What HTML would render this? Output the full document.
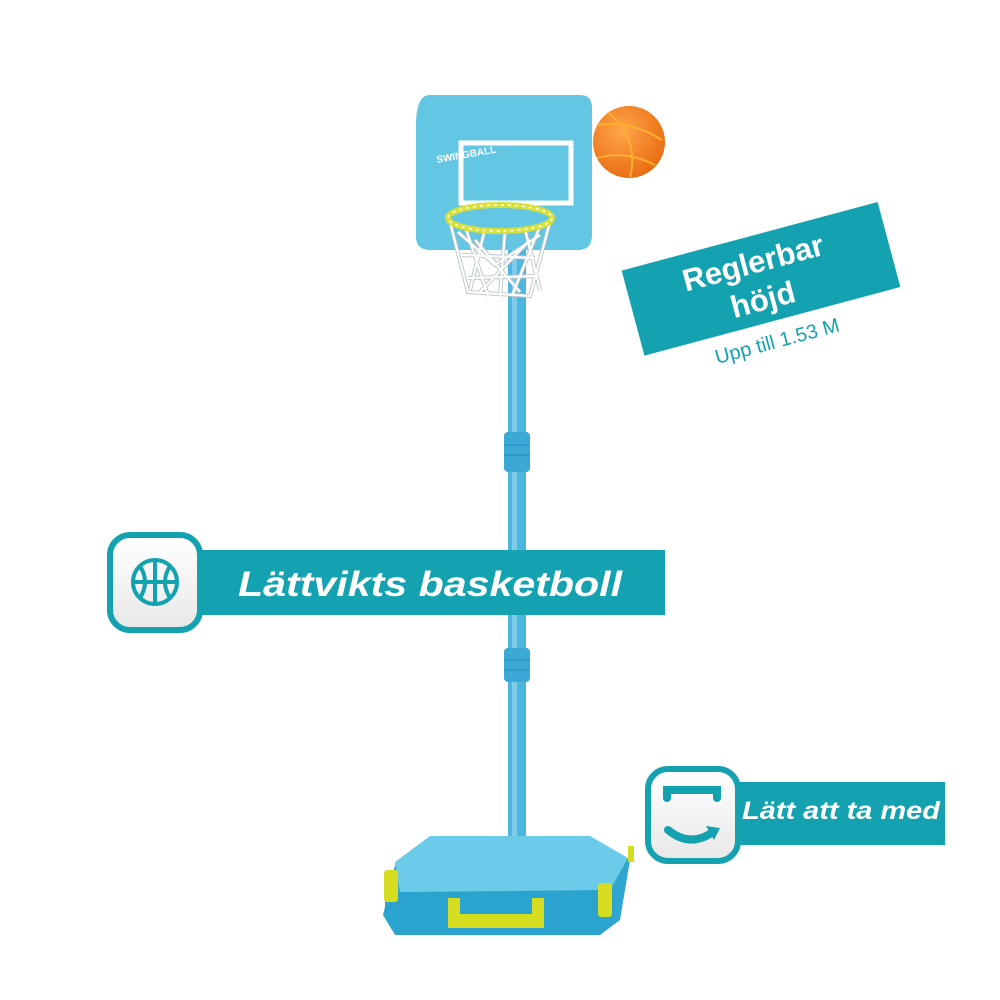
<!DOCTYPE html>
<html><head><meta charset="utf-8"><style>
html,body{margin:0;padding:0;background:#fff;width:1000px;height:1000px;overflow:hidden}
svg{display:block}
text{font-family:"Liberation Sans","DejaVu Sans",sans-serif}
</style></head><body>
<svg width="1000" height="1000" viewBox="0 0 1000 1000" xmlns="http://www.w3.org/2000/svg">
<defs>
<linearGradient id="ib" x1="0" y1="0" x2="0" y2="1"><stop offset="0" stop-color="#fff"/><stop offset="1" stop-color="#e8e8e8"/></linearGradient>
<radialGradient id="ball" cx="0.4" cy="0.35" r="0.7"><stop offset="0" stop-color="#ffa64a"/><stop offset="1" stop-color="#e86a10"/></radialGradient>
</defs>
<!-- pole -->
<rect x="508" y="250" width="18" height="620" fill="#4cb6df"/>
<rect x="512" y="250" width="5" height="620" fill="#7ccbea"/>
<rect x="504" y="432" width="26" height="40" rx="4" fill="#3aa9d6"/>
<rect x="504" y="648" width="26" height="34" rx="4" fill="#3aa9d6"/>
<g stroke="#2b97c4" stroke-width="1.5"><line x1="504" y1="445" x2="530" y2="445"/><line x1="504" y1="455" x2="530" y2="455"/><line x1="504" y1="660" x2="530" y2="660"/><line x1="504" y1="670" x2="530" y2="670"/></g>
<!-- backboard -->
<path d="M430 95 H580 Q592 95 592 108 V235 Q592 250 578 250 H430 Q416 250 416 236 V125 Q416 95 430 95Z" fill="#63c6e2"/>
<rect x="461" y="143" width="110" height="60" fill="none" stroke="#fff" stroke-width="5"/>
<text x="437" y="163" font-size="10" font-weight="bold" fill="#fff" transform="rotate(-10 437 163)">SWINGBALL</text>
<!-- net -->
<g id="net" fill="none">
<g stroke="#b8c4c8" stroke-width="4">
<path d="M450 222 L468 292 L530 296 L550 222"/>
<path d="M465 226 L488 296 M485 229 L470 290 M505 231 L500 296 M525 229 L540 290 M540 226 L512 296 M458 232 L495 265 L540 235 M462 255 L535 258 M468 278 L538 276 M475 240 L520 292 M530 240 L480 292"/>
</g>
<g stroke="#fff" stroke-width="2.2">
<path d="M450 222 L468 292 L530 296 L550 222"/>
<path d="M465 226 L488 296 M485 229 L470 290 M505 231 L500 296 M525 229 L540 290 M540 226 L512 296 M458 232 L495 265 L540 235 M462 255 L535 258 M468 278 L538 276 M475 240 L520 292 M530 240 L480 292"/>
</g>
</g>
<ellipse cx="500" cy="218" rx="52" ry="13" fill="none" stroke="#d9e03a" stroke-width="6"/>
<ellipse cx="500" cy="218" rx="52" ry="13" fill="none" stroke="#fff" stroke-width="1.5" stroke-dasharray="3 4"/>
<!-- ball -->
<circle cx="629" cy="142" r="36" fill="url(#ball)"/>
<g stroke="#ffb030" stroke-width="2" fill="none"><path d="M597 125 Q630 120 662 140"/><path d="M597 158 Q625 150 655 165"/><path d="M608 112 Q640 140 630 177"/></g>
<!-- base -->
<path d="M395 865 L430 838 L590 838 L630 860 L620 920 L600 935 L395 935 L383 915Z" fill="#2fa6d0"/>
<path d="M395 862 L430 836 L590 836 L628 858 L610 890 L400 892 Z" fill="#6ccbe8"/>
<path d="M385 893 L615 890 L612 925 L600 935 L398 935 L385 915Z" fill="#2aa3cf"/>
<g fill="#d6dc20"><rect x="384" y="870" width="14" height="32" rx="3"/><rect x="598" y="883" width="14" height="34" rx="3"/><rect x="628" y="846" width="6" height="16"/></g>
<path d="M448 898 h12 v16 h72 v-16 h12 v30 h-96z" fill="#d6dc20"/>
<!-- banner 1 -->
<g transform="rotate(-15 760 277)">
<rect x="628" y="235" width="265" height="88" fill="#15a2b0"/>
<text x="757" y="272" font-size="31" font-weight="bold" fill="#fff" text-anchor="middle">Reglerbar</text>
<text x="757" y="310" font-size="31" font-weight="bold" fill="#fff" text-anchor="middle">höjd</text>
<text x="760" y="350" font-size="20" fill="#15a2b0" text-anchor="middle">Upp till 1.53 M</text>
</g>
<!-- banner 2 -->
<rect x="190" y="550" width="475" height="65" fill="#15a2b0"/>
<rect x="110" y="535" width="90" height="95" rx="20" fill="url(#ib)" stroke="#15a2b0" stroke-width="6"/>
<g fill="none" stroke="#15a2b0" stroke-width="4"><circle cx="155" cy="582" r="22"/><line x1="133" y1="582" x2="177" y2="582"/><line x1="155" y1="560" x2="155" y2="604"/><path d="M140 566 Q150 582 140 598"/><path d="M170 566 Q160 582 170 598"/></g>
<text x="238" y="596" font-size="35" font-weight="bold" font-style="italic" fill="#fff" textLength="384" lengthAdjust="spacingAndGlyphs">Lättvikts basketboll</text>
<!-- banner 3 -->
<rect x="725" y="782" width="220" height="63" fill="#15a2b0"/>
<rect x="648" y="769" width="90" height="92" rx="20" fill="url(#ib)" stroke="#15a2b0" stroke-width="6"/>
<g fill="none" stroke="#15a2b0" stroke-width="8" stroke-linecap="round"><path d="M667 798 V790 H717 V798"/><path d="M668 830 Q690 848 713 832"/></g>
<path d="M706 826 L720 828 L714 840Z" fill="#15a2b0"/>
<text x="742" y="819" font-size="25" font-weight="bold" font-style="italic" fill="#fff" textLength="198" lengthAdjust="spacingAndGlyphs">Lätt att ta med</text>
</svg>
</body></html>
